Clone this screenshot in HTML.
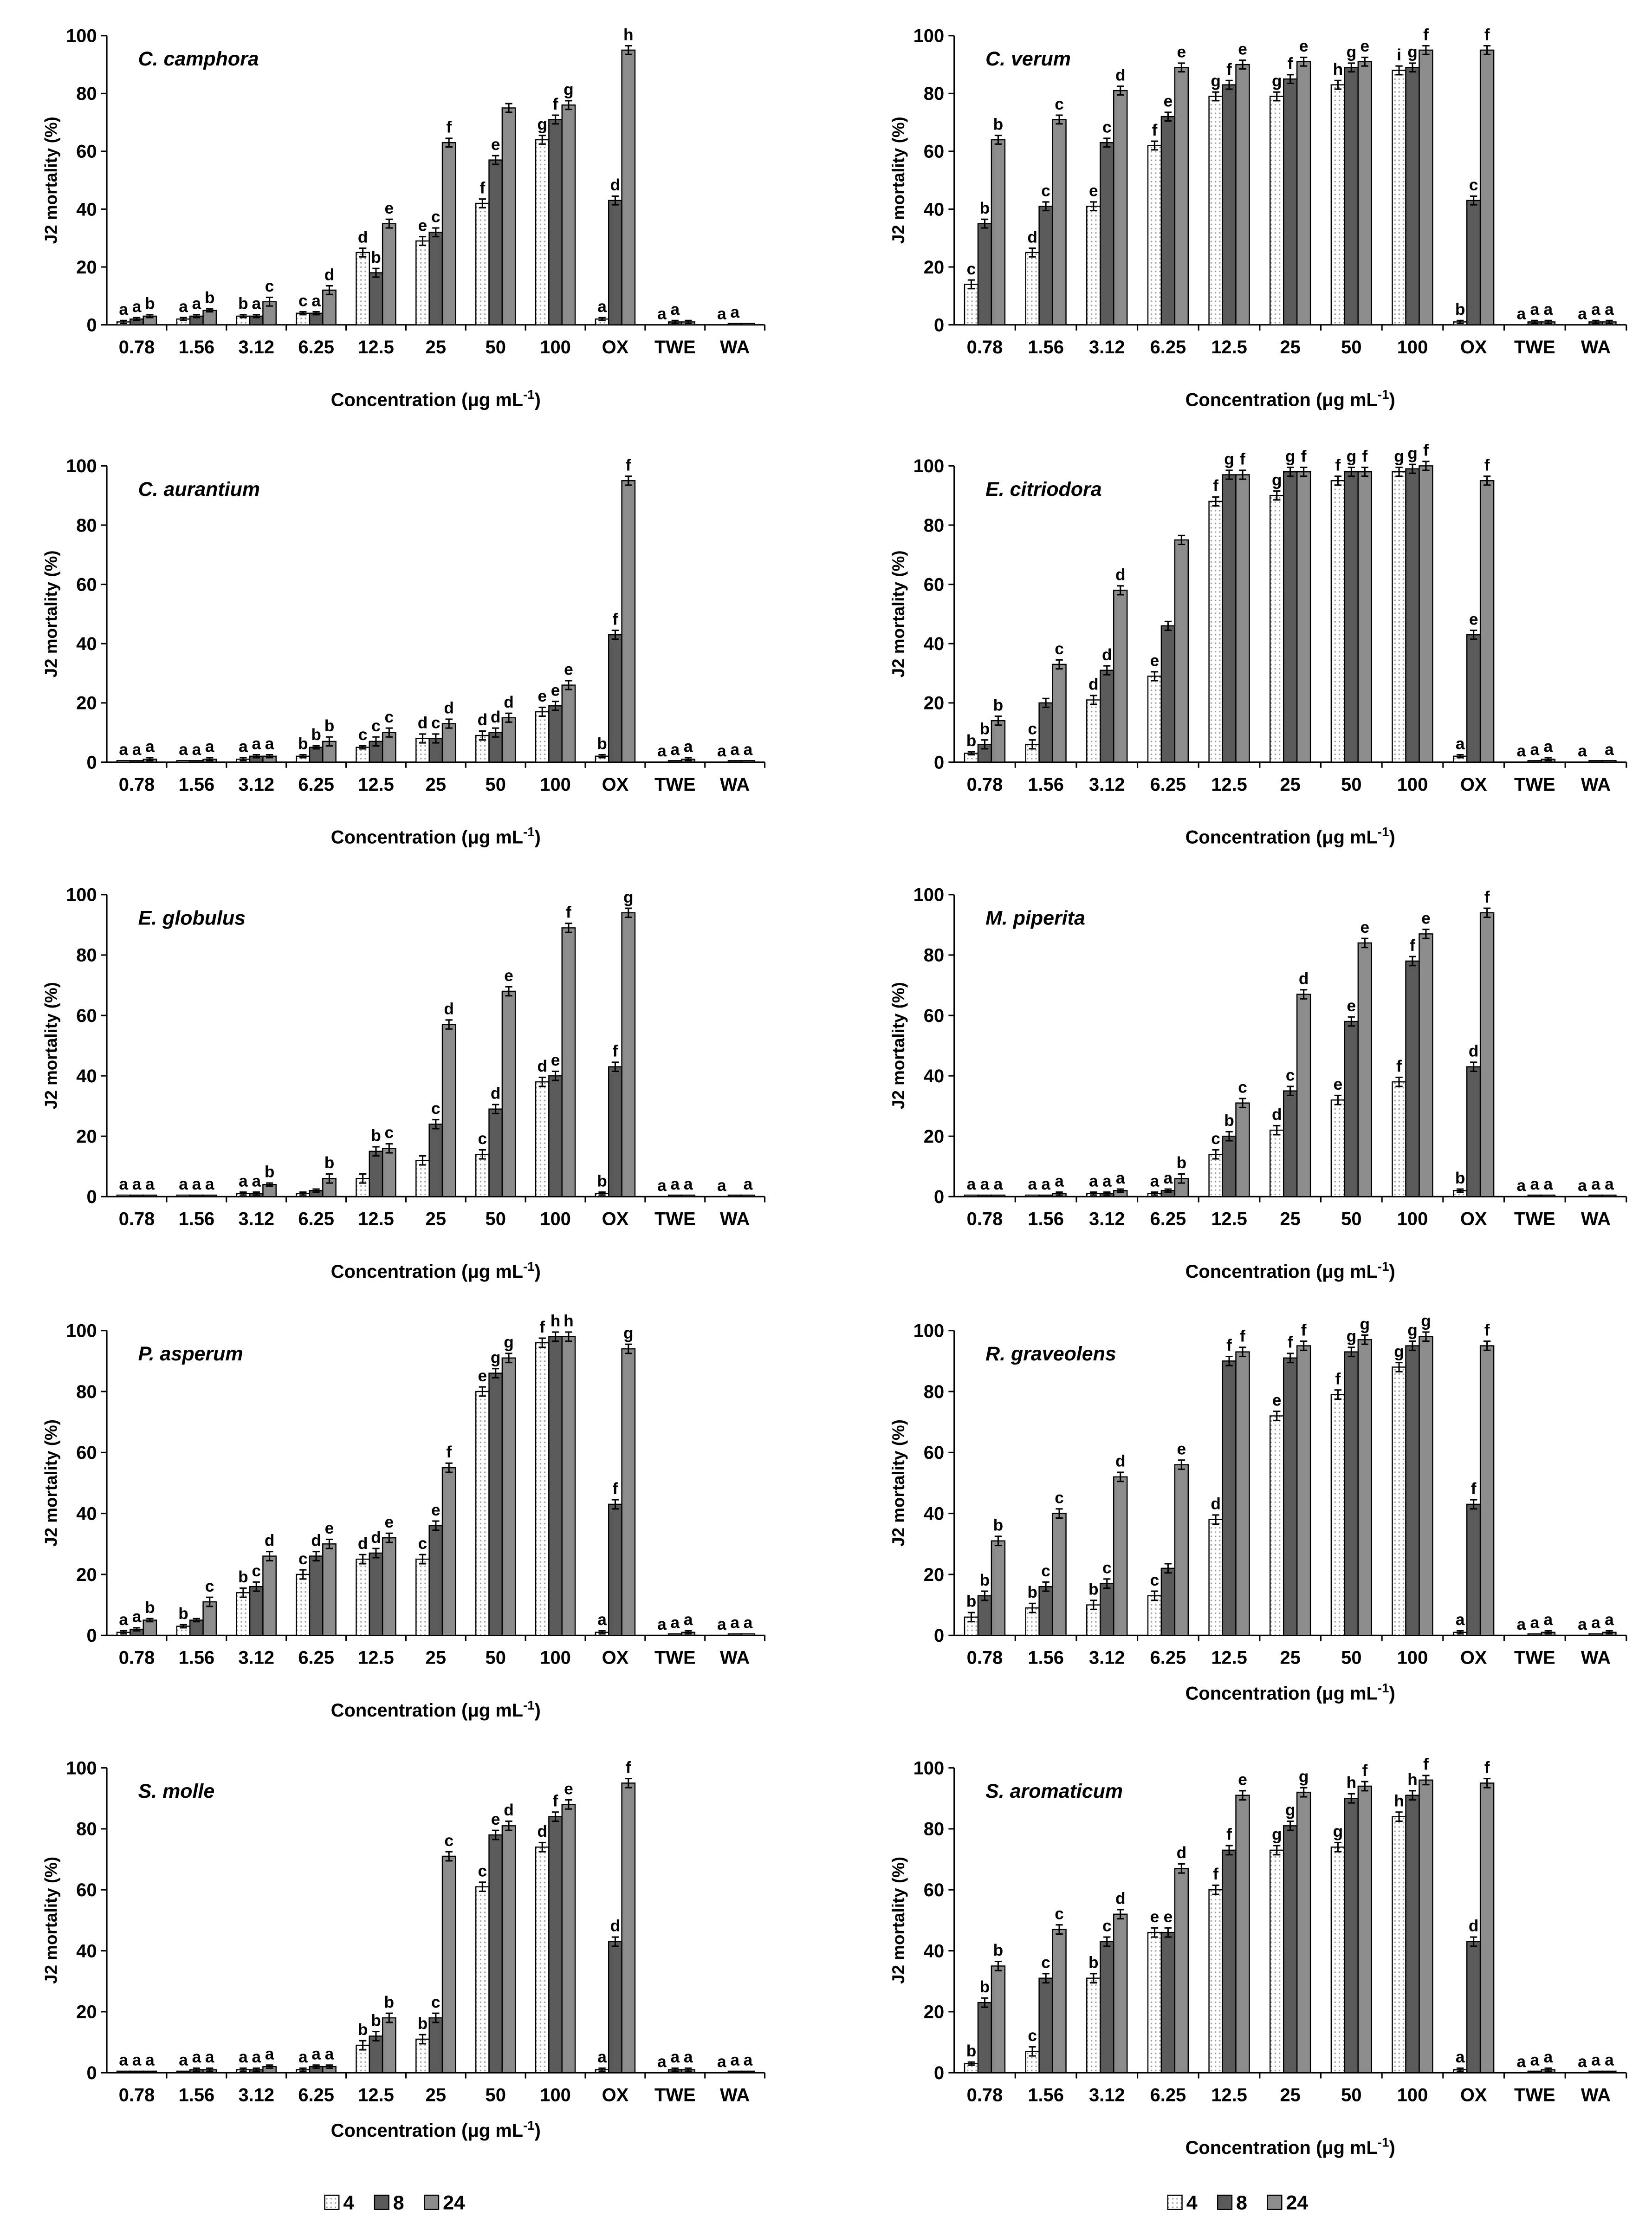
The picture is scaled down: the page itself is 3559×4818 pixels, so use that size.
<!DOCTYPE html>
<html><head><meta charset="utf-8"><style>
html,body{margin:0;padding:0;background:#fff;}
svg{display:block;font-family:"Liberation Sans",Arial,sans-serif;}
</style></head><body>
<svg id="fig" width="3559" height="4818" viewBox="0 0 1160 1570.3" xmlns="http://www.w3.org/2000/svg">
<defs>
<pattern id="dots" width="3" height="3" patternUnits="userSpaceOnUse"><rect width="3" height="3" fill="#fff"/><rect x="1" y="1" width="1" height="1" fill="#999"/></pattern>
</defs>
</svg>
<script>
const categories=["0.78","1.56","3.12","6.25","12.5","25","50","100","OX","TWE","WA"];
const seriesNames=["4","8","24"];
const yTicks=[0,20,40,60,80,100];
const titles=["C. camphora","C. verum","C. aurantium","E. citriodora","E. globulus","M. piperita","P. asperum","R. graveolens","S. molle","S. aromaticum"];
const vals0=[[1,2,3],[2,3,5],[3,3,8],[4,4,12],[25,18,35],[29,32,63],[42,57,75],[64,71,76],[2,43,95],[0,1,1],[0,0.5,0.5]];
const vals1=[[14,35,64],[25,41,71],[41,63,81],[62,72,89],[79,83,90],[79,85,91],[83,89,91],[88,89,95],[1,43,95],[0,1,1],[0,1,1]];
const vals2=[[0.5,0.5,1],[0.5,0.5,1],[1,2,2],[2,5,7],[5,7,10],[8,8,13],[9,10,15],[17,19,26],[2,43,95],[0,0.5,1],[0,0.5,0.5]];
const vals3=[[3,6,14],[6,20,33],[21,31,58],[29,46,75],[88,97,97],[90,98,98],[95,98,98],[98,99,100],[2,43,95],[0,0.5,1],[0,0.5,0.5]];
const vals4=[[0.5,0.5,0.5],[0.5,0.5,0.5],[1,1,4],[1,2,6],[6,15,16],[12,24,57],[14,29,68],[38,40,89],[1,43,94],[0,0.5,0.5],[0,0.5,0.5]];
const vals5=[[0.5,0.5,0.5],[0.5,0.5,1],[1,1,2],[1,2,6],[14,20,31],[22,35,67],[32,58,84],[38,78,87],[2,43,94],[0,0.5,0.5],[0,0.5,0.5]];
const vals6=[[1,2,5],[3,5,11],[14,16,26],[20,26,30],[25,27,32],[25,36,55],[80,86,91],[96,98,98],[1,43,94],[0,0.5,1],[0,0.5,0.5]];
const vals7=[[6,13,31],[9,16,40],[10,17,52],[13,22,56],[38,90,93],[72,91,95],[79,93,97],[88,95,98],[1,43,95],[0,0.5,1],[0,0.5,1]];
const vals8=[[0.5,0.5,0.5],[0.5,1,1],[1,1,2],[1,2,2],[9,12,18],[11,18,71],[61,78,81],[74,84,88],[1,43,95],[0,1,1],[0,0.5,0.5]];
const vals9=[[3,23,35],[7,31,47],[31,43,52],[46,46,67],[60,73,91],[73,81,92],[74,90,94],[84,91,96],[1,43,95],[0,0.5,1],[0,0.5,0.5]];
const let0=[["a","a","b"],["a","a","b"],["b","a","c"],["c","a","d"],["d","b","e"],["e","c","f"],["f","e",""],["g","f","g"],["a","d","h"],["a","a",""],["a","a",""]];
const let1=[["c","b","b"],["d","c","c"],["e","c","d"],["f","e","e"],["g","f","e"],["g","f","e"],["h","g","e"],["i","g","f"],["b","c","f"],["a","a","a"],["a","a","a"]];
const let2=[["a","a","a"],["a","a","a"],["a","a","a"],["b","b","b"],["c","c","c"],["d","c","d"],["d","d","d"],["e","e","e"],["b","f","f"],["a","a","a"],["a","a","a"]];
const let3=[["b","b","b"],["c","","c"],["d","d","d"],["e","",""],["f","g","f"],["g","g","f"],["f","g","f"],["g","g","f"],["a","e","f"],["a","a","a"],["a","","a"]];
const let4=[["a","a","a"],["a","a","a"],["a","a","b"],["","","b"],["","b","c"],["","c","d"],["c","d","e"],["d","e","f"],["b","f","g"],["a","a","a"],["a","","a"]];
const let5=[["a","a","a"],["a","a","a"],["a","a","a"],["a","a","b"],["c","b","c"],["d","c","d"],["e","e","e"],["f","f","e"],["b","d","f"],["a","a","a"],["a","a","a"]];
const let6=[["a","a","b"],["b","","c"],["b","c","d"],["c","d","e"],["d","d","e"],["c","e","f"],["e","g","g"],["f","h","h"],["a","f","g"],["a","a","a"],["a","a","a"]];
const let7=[["b","b","b"],["b","c","c"],["b","c","d"],["c","","e"],["d","f","f"],["e","f","f"],["f","g","g"],["g","g","g"],["a","f","f"],["a","a","a"],["a","a","a"]];
const let8=[["a","a","a"],["a","a","a"],["a","a","a"],["a","a","a"],["b","b","b"],["b","c","c"],["c","e","d"],["d","f","e"],["a","d","f"],["a","a","a"],["a","a","a"]];
const let9=[["b","b","b"],["c","c","c"],["b","c","d"],["e","e","d"],["f","f","e"],["g","g","g"],["g","h","f"],["h","h","f"],["a","d","f"],["a","a","a"],["a","a","a"]];
const allVals=[vals0,vals1,vals2,vals3,vals4,vals5,vals6,vals7,vals8,vals9];
const allLets=[let0,let1,let2,let3,let4,let5,let6,let7,let8,let9];
const fills=["url(#dots)","#5a5a5a","#8c8c8c"];
const NS="http://www.w3.org/2000/svg";
const svg=document.getElementById('fig');
function mk(tag,attrs,parent,text){const e=document.createElementNS(NS,tag);for(const k in attrs)e.setAttribute(k,attrs[k]);if(text!==undefined)e.textContent=text;parent.appendChild(e);return e;}
const rowsTop=[25,327,628,934,1241];
const rowsBot=[228,535,840,1148,1455];
for(let p=0;p<10;p++){
  const col=p%2,row=Math.floor(p/2);
  const L=col?670:75,R=col?1142:537,T=rowsTop[row],B=rowsBot[row];
  const g=mk('g',{},svg);
  
  
  const y=v=>B-(v/100)*(B-T);
  const cw=(R-L)/categories.length;
  const x=i=>L+cw*(i+0.5);
  const bw=cw*0.22;
  // axes
  const ya=mk('line',{x1:L,y1:T,x2:L,y2:B,stroke:'#000','stroke-width':1},g);
  
  const xa=mk('line',{x1:L,y1:B,x2:R,y2:B,stroke:'#000','stroke-width':1},g);
  
  yTicks.forEach(t=>{
    mk('line',{x1:L-4,y1:y(t),x2:L,y2:y(t),stroke:'#000'},g);
    const tl=mk('text',{x:L-7,y:y(t)+4.5,'text-anchor':'end','font-size':13,'font-weight':'bold'},g,String(t));
    
  });
  const yt=mk('text',{transform:`translate(${L-35},${(T+B)/2}) rotate(-90)`,'text-anchor':'middle','font-size':12,'font-weight':'bold'},g,'J2 mortality (%)');
  
  const tt=mk('text',{x:L+22,y:T+21,'font-size':14,'font-weight':'bold','font-style':'italic'},g,titles[p]);
  
  categories.forEach((c,i)=>{
    mk('line',{x1:L+cw*(i+1),y1:B,x2:L+cw*(i+1),y2:B+4,stroke:'#000'},g);
    const cl=mk('text',{x:x(i),y:B+20,'text-anchor':'middle','font-size':13,'font-weight':'bold'},g,c);
    
    for(let s=0;s<3;s++){
      const v=allVals[p][i][s];
      const bx=x(i)+(s-1.5)*bw;
      const r=mk('rect',{x:bx,y:y(v),width:bw,height:B-y(v),fill:fills[s],stroke:'#000','stroke-width':0.8},g);
      
      
      const err=v>5?1.5:(v>0.6?0.5:0);
      if(err>0){
        const cx=bx+bw/2;
        mk('line',{x1:cx,y1:y(v+err),x2:cx,y2:y(v-err),stroke:'#000'},g);
        mk('line',{x1:cx-2.5,y1:y(v+err),x2:cx+2.5,y2:y(v+err),stroke:'#000'},g);
        mk('line',{x1:cx-2.5,y1:y(v-err),x2:cx+2.5,y2:y(v-err),stroke:'#000'},g);
      }
      const lt=allLets[p][i][s];
      if(lt){
        const ll=mk('text',{x:bx+bw/2,y:y(v+err)-4,'text-anchor':'middle','font-size':11.5,'font-weight':'bold'},g,lt);
        
      }
    }
  });
  const xt=mk('text',{x:(L+R)/2,y:B+(p===7||p===8?45:57),'text-anchor':'middle','font-size':13,'font-weight':'bold'},g);
  
  xt.innerHTML='Concentration (μg mL<tspan dy="-5" font-size="9">-1</tspan><tspan dy="5">)</tspan>';
}
// legends
[228,820].forEach((lx,k)=>{
  const g=mk('g',{},svg);
  
  
  let xx=lx;
  seriesNames.forEach((n,s)=>{
    const e=mk('g',{},g);
    
    
    mk('rect',{x:xx,y:1541,width:10,height:10,fill:fills[s],stroke:'#000','stroke-width':0.8},e);
    mk('text',{x:xx+13,y:1551,'font-size':14,'font-weight':'bold'},e,n);
    xx+=n.length>1?45:35;
  });
});
</script>
</body></html>
